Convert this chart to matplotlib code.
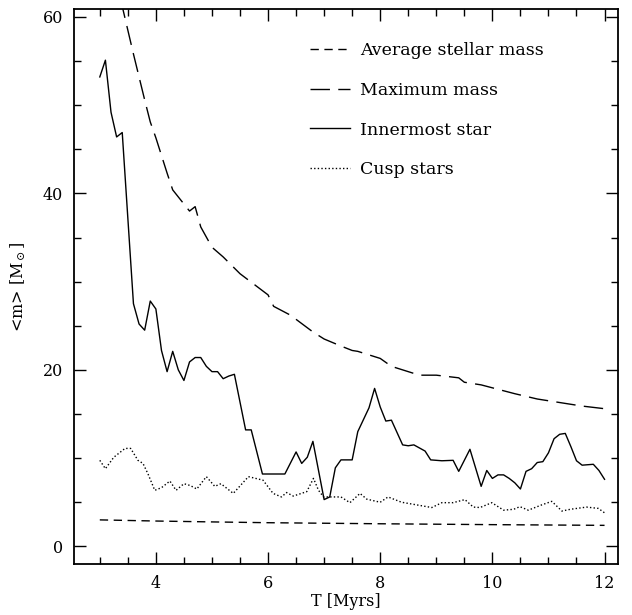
import numpy as np
import matplotlib
matplotlib.use('Agg')
import matplotlib.pyplot as plt
from matplotlib.ticker import MultipleLocator

plt.rcParams['font.family'] = 'DejaVu Serif'
plt.rcParams['mathtext.fontset'] = 'dejavuserif'

# average stellar mass of the cluster
t_avg = [3.0, 4.0, 5.0, 6.0, 7.0, 8.0, 9.0, 10.0, 11.0, 12.0]
m_avg = [3.0, 2.87, 2.77, 2.68, 2.62, 2.56, 2.51, 2.46, 2.42, 2.38]

# most massive star present
t_max = [3.0, 3.2, 3.4, 3.6, 3.8, 3.9, 4.0, 4.2, 4.3, 4.6, 4.7, 4.8, 5.0, 5.2,
         5.5, 6.0, 6.1, 6.4, 6.8, 7.0, 7.3, 7.5, 7.6, 8.0, 8.2, 8.5, 8.7, 9.0,
         9.4, 9.5, 9.8, 10.1, 10.4, 10.8, 11.2, 11.6, 12.0]
m_max = [71.0, 66.0, 61.2, 55.8, 50.6, 48.1, 46.3, 42.3, 40.4, 38.0, 38.5, 36.2,
         33.9, 32.8, 30.9, 28.5, 27.2, 26.2, 24.3, 23.5, 22.7, 22.2, 22.1, 21.3,
         20.4, 19.8, 19.4, 19.4, 19.1, 18.6, 18.3, 17.8, 17.3, 16.7, 16.3, 15.9,
         15.6]

# innermost star
t_in = [3.0, 3.1, 3.2, 3.3, 3.4, 3.6, 3.7, 3.8, 3.9, 4.0, 4.1, 4.2, 4.3, 4.4,
        4.5, 4.6, 4.7, 4.8, 4.9, 5.0, 5.1, 5.2, 5.3, 5.4, 5.6, 5.7, 5.9, 6.3,
        6.5, 6.6, 6.7, 6.8, 7.0, 7.1, 7.2, 7.3, 7.5, 7.6, 7.8, 7.9, 8.0, 8.1,
        8.2, 8.4, 8.5, 8.6, 8.8, 8.9, 9.1, 9.3, 9.4, 9.6, 9.8, 9.9, 10.0, 10.1,
        10.2, 10.3, 10.4, 10.5, 10.6, 10.7, 10.8, 10.9, 11.0, 11.1, 11.2, 11.3,
        11.4, 11.5, 11.6, 11.8, 11.9, 12.0]
m_in = [53.2, 55.1, 49.2, 46.4, 46.9, 27.5, 25.2, 24.5, 27.8, 26.9, 22.2, 19.8,
        22.1, 20.0, 18.8, 20.9, 21.4, 21.4, 20.4, 19.8, 19.8, 19.0, 19.3, 19.5,
        13.2, 13.2, 8.2, 8.2, 10.7, 9.4, 10.1, 11.9, 5.3, 5.6, 8.9, 9.8, 9.8,
        13.0, 15.7, 17.9, 15.8, 14.2, 14.3, 11.5, 11.4, 11.5, 10.8, 9.8, 9.7,
        9.75, 8.5, 11.0, 6.8, 8.6, 7.7, 8.1, 8.1, 7.7, 7.2, 6.5, 8.5, 8.8, 9.5,
        9.6, 10.6, 12.2, 12.7, 12.8, 11.3, 9.7, 9.2, 9.3, 8.6, 7.6]

# mean mass of the cusp stars
t_cusp = [3.0, 3.1, 3.25, 3.45, 3.55, 3.68, 3.77, 3.86, 3.98, 4.1, 4.25, 4.36,
          4.5, 4.61, 4.73, 4.9, 5.05, 5.16, 5.38, 5.65, 5.91, 6.09, 6.24, 6.33,
          6.45, 6.69, 6.81, 6.9, 6.99, 7.3, 7.46, 7.64, 7.76, 8.0, 8.14, 8.38,
          8.65, 8.92, 9.1, 9.3, 9.51, 9.66, 9.78, 9.99, 10.2, 10.38, 10.49,
          10.64, 10.88, 11.06, 11.24, 11.39, 11.68, 11.89, 12.0]
m_cusp = [9.75, 8.8, 10.1, 11.1, 11.1, 9.75, 9.4, 8.2, 6.35, 6.65, 7.4, 6.35,
          7.1, 6.9, 6.5, 7.9, 6.8, 7.1, 6.0, 7.9, 7.5, 6.0, 5.6, 6.1, 5.7, 6.2,
          7.7, 6.35, 5.6, 5.6, 4.95, 6.0, 5.35, 5.0, 5.6, 5.0, 4.7, 4.4, 4.95,
          4.95, 5.3, 4.45, 4.4, 4.95, 4.1, 4.2, 4.5, 4.1, 4.7, 5.1, 4.0, 4.2,
          4.45, 4.3, 3.8]

labels = ['Average stellar mass', 'Maximum mass', 'Innermost star', 'Cusp stars']

fig = plt.figure(figsize=(6.32, 6.15), dpi=100)
ax = fig.add_axes([74 / 632, 1 - 564 / 615, 544 / 632, 555 / 615])

lw = 1.0
l1, = ax.plot(t_avg, m_avg, color='k', lw=lw, dashes=(6, 4))
l2, = ax.plot(t_max, m_max, color='k', lw=lw, dashes=(14, 6))
l3, = ax.plot(t_in, m_in, color='k', lw=lw)
l4, = ax.plot(t_cusp, m_cusp, color='k', lw=lw, dashes=(1, 1.6))

ax.set_xlim(2.54, 12.24)
ax.set_ylim(-2.0, 60.9)
ax.xaxis.set_major_locator(MultipleLocator(2))
ax.xaxis.set_minor_locator(MultipleLocator(0.5))
ax.yaxis.set_major_locator(MultipleLocator(20))
ax.yaxis.set_minor_locator(MultipleLocator(5))
ax.tick_params(which='both', direction='in', top=True, right=True,
               width=1.0, labelsize=11.5, pad=8)
ax.tick_params(which='major', length=8.5)
ax.tick_params(which='minor', length=4.8)
for s in ax.spines.values():
    s.set_linewidth(1.3)

ax.set_xlabel('T [Myrs]', fontsize=11.5, labelpad=1)
ax.set_ylabel(r'<m> [M$_\odot$]', fontsize=11.5)
ax.yaxis.set_label_coords(-0.085, 0.5)

leg = ax.legend([l1, l2, l3, l4], labels, loc='upper left',
                bbox_to_anchor=(0.405, 0.968), frameon=False, fontsize=12.5,
                handlelength=2.3, handletextpad=0.6, labelspacing=1.3)

fig.savefig('out.png', dpi=100)
